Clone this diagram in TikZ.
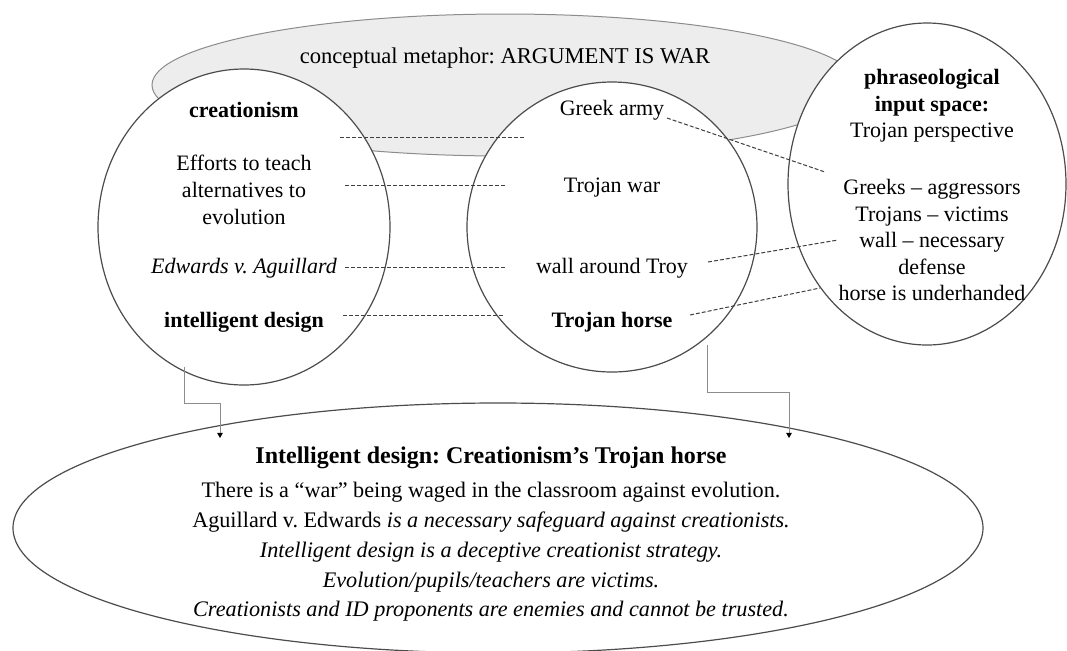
\documentclass[tikz,border=0pt]{standalone}
\usepackage{fontspec}
\setmainfont{Liberation Serif}
\frenchspacing
\usetikzlibrary{shapes.geometric,arrows.meta}
\begin{document}
\begin{tikzpicture}[x=.5pt,y=-.5pt,
		every node/.style={inner sep=0pt,align=center,font=\fontsize{11}{13.5}\selectfont},
		blob/.style={ellipse,draw=black!70,line width=.6pt,fill=white},
		map/.style={draw=black!75,line width=.5pt,dash pattern=on 2pt off 1pt},
		feed/.style={draw=black!45,line width=.5pt,-{Triangle[length=2.6pt,width=2.8pt,color=black]}}]
	\useasboundingbox (0,0) rectangle (1067,650);
	\node[ellipse,draw=black!45,fill=black!7,line width=.5pt,minimum width=353pt,minimum height=71pt] (frame) at (505,85) {};
	\node[anchor=center,font=\fontsize{11.3}{13.5}\selectfont] (meta) at (505,58)
		{conceptual metaphor: ARGUMENT IS WAR};
	\node[blob,minimum width=146pt,minimum height=158pt] (crea) at (244,227) {};
	\node[blob,minimum width=145pt,minimum height=145pt] (troy) at (612,227) {};
	\node[blob,minimum width=139pt,minimum height=161pt] (phra) at (927,184) {};
	\node[blob,fill=none,minimum width=485pt,minimum height=125pt] (blend) at (498,528) {};
	\node (creat) at (244,110) {\bfseries creationism};
	\node (effort) at (244,190) {Efforts to teach\\alternatives to\\evolution};
	\node (edw) at (244,268) {\itshape Edwards v. Aguillard};
	\node (intel) at (244,322) {\bfseries intelligent design};
	\node (army) at (612,110) {Greek army};
	\node (war) at (612,188) {Trojan war};
	\node (wall) at (612,268) {wall around Troy};
	\node (horse) at (612,322) {\bfseries Trojan horse};
	\node[font=\fontsize{11}{13.25}\selectfont] (phrahead) at (932,106)
		{\textbf{phraseological}\\\textbf{input space:}\\Trojan perspective};
	\node[font=\fontsize{11}{13.25}\selectfont] (phrabody) at (932,240)
		{Greeks -- aggressors\\Trojans -- victims\\wall -- necessary\\defense\\horse is underhanded};
	\node[font=\fontsize{12}{14}\selectfont\bfseries] (title) at (491,458)
		{Intelligent design: Creationism’s Trojan horse};
	\node[font=\fontsize{11.1}{14.85}\selectfont] (claims) at (491,552)
		{There is a “war” being waged in the classroom against evolution.\\
		Aguillard v. Edwards \textit{is a necessary safeguard against creationists.}\\
		\textit{Intelligent design is a deceptive creationist strategy.}\\
		\textit{Evolution/pupils/teachers are victims.}\\
		\textit{Creationists and ID proponents are enemies and cannot be trusted.}};
	\coordinate (m1a) at (340,137); \coordinate (m1b) at (525,137);
	\coordinate (m2a) at (345,185); \coordinate (m2b) at (505,185);
	\coordinate (m3a) at (345,267); \coordinate (m3b) at (505,267);
	\coordinate (m4a) at (343,315); \coordinate (m4b) at (503,315);
	\coordinate (m5a) at (667,118); \coordinate (m5b) at (825,172);
	\coordinate (m6a) at (708,262); \coordinate (m6b) at (838,240);
	\coordinate (m7a) at (690,315); \coordinate (m7b) at (820,288);
	\draw[map] (m1a) -- (m1b);
	\draw[map] (m2a) -- (m2b);
	\draw[map] (m3a) -- (m3b);
	\draw[map] (m4a) -- (m4b);
	\draw[map] (m5a) -- (m5b);
	\draw[map] (m6a) -- (m6b);
	\draw[map] (m7a) -- (m7b);
	\coordinate (lfrom) at (184,367); \coordinate (lto) at (220,438);
	\coordinate (rfrom) at (707,345); \coordinate (rto) at (789,438);
	\draw[feed] (lfrom) -- ++(0,36) -| (lto);
	\draw[feed] (rfrom) -- ++(0,47) -| (rto);
\end{tikzpicture}
\end{document}
